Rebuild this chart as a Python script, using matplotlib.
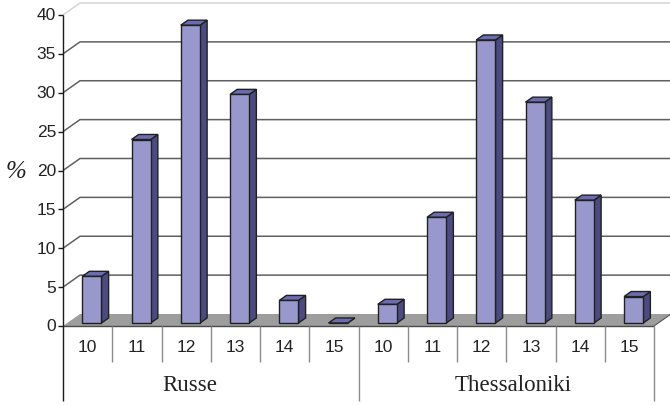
import matplotlib.pyplot as plt
from matplotlib.patches import Polygon

groups = ['Russe', 'Thessaloniki']
ages = ['10', '11', '12', '13', '14', '15']
russe = [6.0, 23.6, 38.3, 29.4, 2.9, 0.0]
thessaloniki = [2.4, 13.6, 36.4, 28.4, 15.8, 3.4]
yticks = [0, 5, 10, 15, 20, 25, 30, 35, 40]

values = russe + thessaloniki
n = len(values)

# one category slot ~49 px wide, one percent ~7.8 px tall
sx, sy = 49.25, 7.775
fig = plt.figure(figsize=(6.7, 4.06), dpi=100)
ax = fig.add_axes([0, 0, 1, 1])
ax.set_xlim(-63 / sx, 607 / sx)
ax.set_ylim(-79 / sy, 327 / sy)
ax.axis('off')

# depth direction of the pseudo-3d box
DX, DY = 17 / sx, 12 / sy


def proj(x, y, d):
    return (x + d * DX, y + d * DY)


def line(pts, **kw):
    xs, ys = zip(*pts)
    ax.plot(xs, ys, solid_capstyle='butt', **kw)


# floor
floor = [proj(0, 0, 0), proj(n, 0, 0), proj(n, 0, 1), proj(0, 0, 1)]
ax.add_patch(Polygon(floor, closed=True, fc='#9d9d9d', ec='none', zorder=1))
line([proj(n, 0, 0), proj(n, 0, 1)], color='#555555', lw=0.8, zorder=1)

# back wall gridlines
for t in yticks[1:]:
    c = '#d4d4d4' if t == yticks[-1] else '#606060'
    line([proj(0, t, 0), proj(0, t, 1), proj(n, t, 1)], color=c, lw=1.1, zorder=1)

# bars
w = 0.39
d0, d1 = 0.25, 0.67
front_c, side_c, top_c = '#9898cc', '#4b4b82', '#6c6cb0'
for i, v in enumerate(values):
    x0 = i + 0.5 - w / 2
    x1 = x0 + w
    side = [proj(x1, 0, d0), proj(x1, 0, d1), proj(x1, v, d1), proj(x1, v, d0)]
    top = [proj(x0, v, d0), proj(x1, v, d0), proj(x1, v, d1), proj(x0, v, d1)]
    front = [proj(x0, 0, d0), proj(x1, 0, d0), proj(x1, v, d0), proj(x0, v, d0)]
    for poly, c in ((side, side_c), (top, top_c), (front, front_c)):
        ax.add_patch(Polygon(poly, closed=True, fc=c, ec='#202020', lw=1.0,
                             joinstyle='miter', zorder=3 + i * 0.01))

# category table under the floor
line([(0, 0), (n, 0)], color='#4a4a4a', lw=1.0, zorder=2)
for k in range(1, n):
    if k % len(ages) == 0:
        continue
    line([(k, 0), (k, -36 / sy)], color='#8a8a8a', lw=1.0, zorder=2)
for k in range(len(ages), n + 1, len(ages)):
    line([(k, 0), (k, -75 / sy)], color='#8a8a8a', lw=1.0, zorder=2)

# y axis with ticks
line([(0, yticks[-1]), (0, -75 / sy)], color='#1a1a1a', lw=1.0, zorder=2)
for t in yticks:
    line([(-5 / sx, t), (0, t)], color='#1a1a1a', lw=1.0, zorder=2)
    ax.text(-7 / sx, t, str(t), ha='right', va='center', fontsize=12.5,
            family='Liberation Sans', color='#222222')

for j, a in enumerate(ages * len(groups)):
    ax.text(j + 0.5, -21 / sy, a, ha='center', va='center',
            fontsize=12.5, family='Liberation Sans', color='#222222')

# group captions sit a little off the group centres
for name, xc in zip(groups, [(190 - 63) / sx, (513 - 63) / sx]):
    ax.text(xc, -59 / sy, name, ha='center', va='center', fontsize=16.5,
            family='Liberation Serif', color='#222222')

ax.text(-47 / sx, 155 / sy, '%', ha='center', va='center', fontsize=18,
        family='Liberation Serif', style='italic', color='#222222')

fig.savefig('out.png', dpi=100)
